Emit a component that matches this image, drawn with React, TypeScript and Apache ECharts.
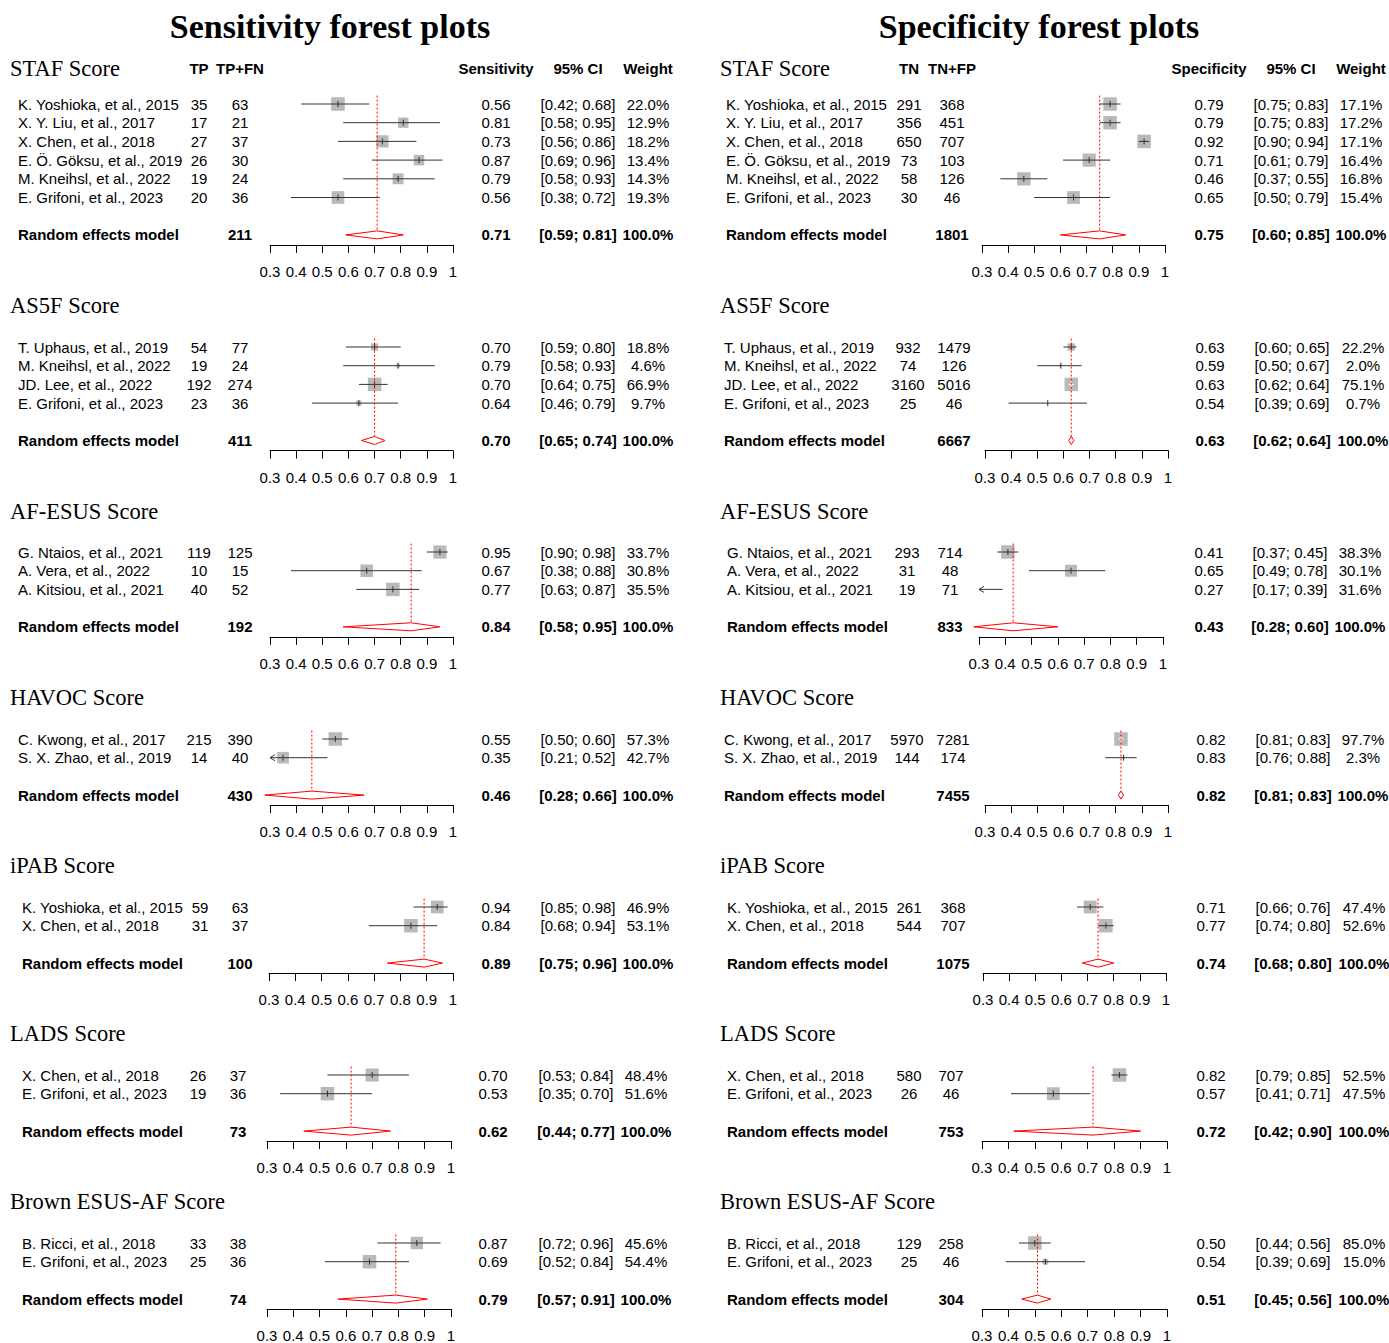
import React, { useEffect, useRef } from "react";
import * as echarts from "echarts";

type Row = [string, number, number, number, number, number, number]; // study, events, total, estimate, lower, upper, weight %
type Pooled = [number, number, number, number]; // total, estimate, lower, upper

// ---------------- Sensitivity data ----------------
const SENS_STAF: Row[] = [
  ["K. Yoshioka, et al., 2015", 35, 63, 0.56, 0.42, 0.68, 22.0],
  ["X. Y. Liu, et al., 2017", 17, 21, 0.81, 0.58, 0.95, 12.9],
  ["X. Chen, et al., 2018", 27, 37, 0.73, 0.56, 0.86, 18.2],
  ["E. Ö. Göksu, et al., 2019", 26, 30, 0.87, 0.69, 0.96, 13.4],
  ["M. Kneihsl, et al., 2022", 19, 24, 0.79, 0.58, 0.93, 14.3],
  ["E. Grifoni, et al., 2023", 20, 36, 0.56, 0.38, 0.72, 19.3],
];
const SENS_STAF_POOLED: Pooled = [211, 0.71, 0.59, 0.81];

const SENS_AS5F: Row[] = [
  ["T. Uphaus, et al., 2019", 54, 77, 0.70, 0.59, 0.80, 18.8],
  ["M. Kneihsl, et al., 2022", 19, 24, 0.79, 0.58, 0.93, 4.6],
  ["JD. Lee, et al., 2022", 192, 274, 0.70, 0.64, 0.75, 66.9],
  ["E. Grifoni, et al., 2023", 23, 36, 0.64, 0.46, 0.79, 9.7],
];
const SENS_AS5F_POOLED: Pooled = [411, 0.70, 0.65, 0.74];

const SENS_AFESUS: Row[] = [
  ["G. Ntaios, et al., 2021", 119, 125, 0.95, 0.90, 0.98, 33.7],
  ["A. Vera, et al., 2022", 10, 15, 0.67, 0.38, 0.88, 30.8],
  ["A. Kitsiou, et al., 2021", 40, 52, 0.77, 0.63, 0.87, 35.5],
];
const SENS_AFESUS_POOLED: Pooled = [192, 0.84, 0.58, 0.95];

const SENS_HAVOC: Row[] = [
  ["C. Kwong, et al., 2017", 215, 390, 0.55, 0.50, 0.60, 57.3],
  ["S. X. Zhao, et al., 2019", 14, 40, 0.35, 0.21, 0.52, 42.7],
];
const SENS_HAVOC_POOLED: Pooled = [430, 0.46, 0.28, 0.66];

const SENS_IPAB: Row[] = [
  ["K. Yoshioka, et al., 2015", 59, 63, 0.94, 0.85, 0.98, 46.9],
  ["X. Chen, et al., 2018", 31, 37, 0.84, 0.68, 0.94, 53.1],
];
const SENS_IPAB_POOLED: Pooled = [100, 0.89, 0.75, 0.96];

const SENS_LADS: Row[] = [
  ["X. Chen, et al., 2018", 26, 37, 0.70, 0.53, 0.84, 48.4],
  ["E. Grifoni, et al., 2023", 19, 36, 0.53, 0.35, 0.70, 51.6],
];
const SENS_LADS_POOLED: Pooled = [73, 0.62, 0.44, 0.77];

const SENS_BROWN: Row[] = [
  ["B. Ricci, et al., 2018", 33, 38, 0.87, 0.72, 0.96, 45.6],
  ["E. Grifoni, et al., 2023", 25, 36, 0.69, 0.52, 0.84, 54.4],
];
const SENS_BROWN_POOLED: Pooled = [74, 0.79, 0.57, 0.91];

// ---------------- Specificity data ----------------
const SPEC_STAF: Row[] = [
  ["K. Yoshioka, et al., 2015", 291, 368, 0.79, 0.75, 0.83, 17.1],
  ["X. Y. Liu, et al., 2017", 356, 451, 0.79, 0.75, 0.83, 17.2],
  ["X. Chen, et al., 2018", 650, 707, 0.92, 0.90, 0.94, 17.1],
  ["E. Ö. Göksu, et al., 2019", 73, 103, 0.71, 0.61, 0.79, 16.4],
  ["M. Kneihsl, et al., 2022", 58, 126, 0.46, 0.37, 0.55, 16.8],
  ["E. Grifoni, et al., 2023", 30, 46, 0.65, 0.50, 0.79, 15.4],
];
const SPEC_STAF_POOLED: Pooled = [1801, 0.75, 0.60, 0.85];

const SPEC_AS5F: Row[] = [
  ["T. Uphaus, et al., 2019", 932, 1479, 0.63, 0.60, 0.65, 22.2],
  ["M. Kneihsl, et al., 2022", 74, 126, 0.59, 0.50, 0.67, 2.0],
  ["JD. Lee, et al., 2022", 3160, 5016, 0.63, 0.62, 0.64, 75.1],
  ["E. Grifoni, et al., 2023", 25, 46, 0.54, 0.39, 0.69, 0.7],
];
const SPEC_AS5F_POOLED: Pooled = [6667, 0.63, 0.62, 0.64];

const SPEC_AFESUS: Row[] = [
  ["G. Ntaios, et al., 2021", 293, 714, 0.41, 0.37, 0.45, 38.3],
  ["A. Vera, et al., 2022", 31, 48, 0.65, 0.49, 0.78, 30.1],
  ["A. Kitsiou, et al., 2021", 19, 71, 0.27, 0.17, 0.39, 31.6],
];
const SPEC_AFESUS_POOLED: Pooled = [833, 0.43, 0.28, 0.60];

const SPEC_HAVOC: Row[] = [
  ["C. Kwong, et al., 2017", 5970, 7281, 0.82, 0.81, 0.83, 97.7],
  ["S. X. Zhao, et al., 2019", 144, 174, 0.83, 0.76, 0.88, 2.3],
];
const SPEC_HAVOC_POOLED: Pooled = [7455, 0.82, 0.81, 0.83];

const SPEC_IPAB: Row[] = [
  ["K. Yoshioka, et al., 2015", 261, 368, 0.71, 0.66, 0.76, 47.4],
  ["X. Chen, et al., 2018", 544, 707, 0.77, 0.74, 0.80, 52.6],
];
const SPEC_IPAB_POOLED: Pooled = [1075, 0.74, 0.68, 0.80];

const SPEC_LADS: Row[] = [
  ["X. Chen, et al., 2018", 580, 707, 0.82, 0.79, 0.85, 52.5],
  ["E. Grifoni, et al., 2023", 26, 46, 0.57, 0.41, 0.71, 47.5],
];
const SPEC_LADS_POOLED: Pooled = [753, 0.72, 0.42, 0.90];

const SPEC_BROWN: Row[] = [
  ["B. Ricci, et al., 2018", 129, 258, 0.50, 0.44, 0.56, 85.0],
  ["E. Grifoni, et al., 2023", 25, 46, 0.54, 0.39, 0.69, 15.0],
];
const SPEC_BROWN_POOLED: Pooled = [304, 0.51, 0.45, 0.56];

const SCORES = ["STAF Score", "AS5F Score", "AF-ESUS Score", "HAVOC Score", "iPAB Score", "LADS Score", "Brown ESUS-AF Score"];
const SENS_ROWS = [SENS_STAF, SENS_AS5F, SENS_AFESUS, SENS_HAVOC, SENS_IPAB, SENS_LADS, SENS_BROWN];
const SENS_POOLED = [SENS_STAF_POOLED, SENS_AS5F_POOLED, SENS_AFESUS_POOLED, SENS_HAVOC_POOLED, SENS_IPAB_POOLED, SENS_LADS_POOLED, SENS_BROWN_POOLED];
const SPEC_ROWS = [SPEC_STAF, SPEC_AS5F, SPEC_AFESUS, SPEC_HAVOC, SPEC_IPAB, SPEC_LADS, SPEC_BROWN];
const SPEC_POOLED = [SPEC_STAF_POOLED, SPEC_AS5F_POOLED, SPEC_AFESUS_POOLED, SPEC_HAVOC_POOLED, SPEC_IPAB_POOLED, SPEC_LADS_POOLED, SPEC_BROWN_POOLED];
const SENS_HEADERS = ["TP", "TP+FN", "Sensitivity", "95% CI", "Weight"];
const SPEC_HEADERS = ["TN", "TN+FP", "Specificity", "95% CI", "Weight"];
const TITLES = ["Sensitivity forest plots", "Specificity forest plots"];
const POOLED_LABEL = "Random effects model";
const AXIS_MIN = 0.3;
const AXIS_MAX = 1;
const AXIS_STEP = 0.1;

// ---------------- Layout (pixels) ----------------
const RS = 18.7; // row spacing
const AXIS_GAP = 10;
const SQ = 13.5;
const DH = 4;
const SANS = '"Liberation Sans", Arial, Helvetica, sans-serif';
const SERIF = '"Liberation Serif", "Times New Roman", Times, serif';
const ROW_Y: [number, number][] = [
  [68, 104], [305, 347], [511, 552], [697, 739], [865, 907], [1033, 1075], [1201, 1243],
];
type Cols = [number, number, number, number, number, number, number, number]; // x0, x1, nameX, c1, c2, s1, s2, s3
const LEFT_COLS: Cols[] = [
  [270, 453, 18, 199, 240, 496, 578, 648],
  [270, 453, 18, 199, 240, 496, 578, 648],
  [270, 453, 18, 199, 240, 496, 578, 648],
  [270, 453, 18, 199, 240, 496, 578, 648],
  [269, 453, 22, 200, 240, 496, 578, 648],
  [267, 451, 22, 198, 238, 493, 576, 646],
  [267, 451, 22, 198, 238, 493, 576, 646],
];
const RIGHT_COLS: Cols[] = [
  [982, 1165, 726, 909, 952, 1209, 1291, 1361],
  [985, 1168, 724, 908, 954, 1210, 1292, 1363],
  [979, 1163, 727, 907, 950, 1209, 1290, 1360],
  [985, 1168, 724, 907, 953, 1211, 1293, 1363],
  [983, 1166, 727, 909, 953, 1211, 1293, 1364],
  [982, 1167, 727, 909, 951, 1211, 1293, 1364],
  [982, 1167, 727, 909, 951, 1211, 1293, 1364],
];

function textEl(text: string, x: number, y: number, align: string, font: string) {
  return {
    type: "text",
    x,
    y,
    style: {
      text,
      fill: "#000",
      font,
      align,
      verticalAlign: "middle",
      textAlign: align,
      textVerticalAlign: "middle",
    },
  };
}

function buildOption() {
  const grids: any[] = [];
  const xAxes: any[] = [];
  const yAxes: any[] = [];
  const series: any[] = [];
  const graphics: any[] = [];
  const F = `15px ${SANS}`;
  const FB = `bold 15px ${SANS}`;

  const panels: any[] = [];
  for (let k = 0; k < 7; k++) {
    panels.push({ rows: SENS_ROWS[k], pooled: SENS_POOLED[k], cols: LEFT_COLS[k], title: SCORES[k], ty: ROW_Y[k][0], row0: ROW_Y[k][1], titleX: 10, headers: k === 0 ? SENS_HEADERS : null });
    panels.push({ rows: SPEC_ROWS[k], pooled: SPEC_POOLED[k], cols: RIGHT_COLS[k], title: SCORES[k], ty: ROW_Y[k][0], row0: ROW_Y[k][1], titleX: 720, headers: k === 0 ? SPEC_HEADERS : null });
  }

  graphics.push({ type: "text", x: 330, y: 26, style: { text: TITLES[0], fill: "#000", font: `bold 34px ${SERIF}`, align: "center", verticalAlign: "middle", textAlign: "center", textVerticalAlign: "middle" } });
  graphics.push({ type: "text", x: 1039, y: 26, style: { text: TITLES[1], fill: "#000", font: `bold 34px ${SERIF}`, align: "center", verticalAlign: "middle", textAlign: "center", textVerticalAlign: "middle" } });

  panels.forEach((p, k) => {
    const rows: Row[] = p.rows;
    const pooled: Pooled = p.pooled;
    const [x0, x1, nameX, c1, c2, s1, s2, s3] = p.cols as Cols;
    const n = rows.length;
    const wMax = Math.max(...rows.map((r) => r[6]));

    graphics.push(textEl(p.title, p.titleX, p.ty, "left", `22.5px ${SERIF}`));
    if (p.headers) {
      const hx = [c1, c2, s1, s2, s3];
      p.headers.forEach((h: string, j: number) => graphics.push(textEl(h, hx[j], p.ty, "center", FB)));
    }

    grids.push({ left: x0, top: p.row0 - 0.5 * RS, width: x1 - x0, height: (n + 1.5) * RS + AXIS_GAP, containLabel: false, outerBoundsMode: "none" });
    xAxes.push({
      type: "value",
      gridIndex: k,
      min: AXIS_MIN,
      max: AXIS_MAX,
      interval: AXIS_STEP,
      position: "bottom",
      axisLine: { show: true, onZero: false, lineStyle: { color: "#000", width: 1 } },
      axisTick: { show: true, length: 8, inside: false, lineStyle: { color: "#000", width: 1 } },
      axisLabel: {
        show: true,
        margin: 19,
        color: "#000",
        fontSize: 15,
        fontFamily: SANS,
        hideOverlap: false,
        formatter: (v: number) => (Math.abs(v - 1) < 1e-9 ? "1" : v.toFixed(1)),
      },
      splitLine: { show: false },
    });
    yAxes.push({ type: "value", gridIndex: k, min: -0.5, max: n + 1 + AXIS_GAP / RS, inverse: true, show: false });

    const data = rows.map((r, i) => [r[3], i]);
    data.push([pooled[1], n + 1]);

    series.push({
      type: "custom",
      coordinateSystem: "cartesian2d",
      xAxisIndex: k,
      yAxisIndex: k,
      clip: false,
      silent: true,
      animation: false,
      encode: { x: 0, y: 1 },
      data,
      renderItem: (params: any, api: any) => {
        const i = params.dataIndex;
        const isPooled = i === n;
        const r = isPooled ? n + 1 : i;
        const X = (v: number) => api.coord([v, r])[0];
        const y = api.coord([AXIS_MIN, r])[1];
        const children: any[] = [];
        if (!isPooled) {
          const [name, ev, tot, est, lo, hi, w] = rows[i];
          children.push(textEl(name, nameX, y, "left", F));
          children.push(textEl(String(ev), c1, y, "center", F));
          children.push(textEl(String(tot), c2, y, "center", F));
          children.push(textEl(est.toFixed(2), s1, y, "center", F));
          children.push(textEl(`[${lo.toFixed(2)}; ${hi.toFixed(2)}]`, s2, y, "center", F));
          children.push(textEl(`${w.toFixed(1)}%`, s3, y, "center", F));
          const xMin = X(AXIS_MIN);
          const side = SQ * Math.sqrt(w / wMax);
          const xe = X(est);
          const xl = X(lo);
          const xh = X(hi);
          const inside = xh - xl < 0.6 * side;
          const col = inside ? "#ffffff" : "#333333";
          if (est >= AXIS_MIN) {
            children.push({ type: "rect", shape: { x: xe - side / 2, y: y - side / 2, width: side, height: side }, style: { fill: "#b9b9b9" } });
          }
          children.push({ type: "line", shape: { x1: Math.max(xl, xMin), y1: y, x2: xh, y2: y }, style: { stroke: col, lineWidth: 1 } });
          if (lo < AXIS_MIN) {
            children.push({ type: "polyline", shape: { points: [[xMin + 5, y - 3], [xMin, y], [xMin + 5, y + 3]] }, style: { stroke: "#333333", fill: "none", lineWidth: 1 } });
          }
          if (est >= AXIS_MIN) {
            children.push({ type: "line", shape: { x1: xe, y1: y - 3, x2: xe, y2: y + 3 }, style: { stroke: col, lineWidth: 1 } });
          }
        } else {
          const [tot, est, lo, hi] = pooled;
          children.push(textEl(POOLED_LABEL, nameX, y, "left", FB));
          children.push(textEl(String(tot), c2, y, "center", FB));
          children.push(textEl(est.toFixed(2), s1, y, "center", FB));
          children.push(textEl(`[${lo.toFixed(2)}; ${hi.toFixed(2)}]`, s2, y, "center", FB));
          children.push(textEl("100.0%", s3, y, "center", FB));
          const xe = X(est);
          const yTop = api.coord([est, -0.45])[1];
          children.push({ type: "line", shape: { x1: xe, y1: yTop, x2: xe, y2: y - DH }, style: { stroke: "#ff0000", lineWidth: 1, lineDash: [2, 2] } });
          children.push({
            type: "polygon",
            shape: { points: [[X(lo), y], [xe, y - DH], [X(hi), y], [xe, y + DH]] },
            style: { stroke: "#ff0000", fill: "none", lineWidth: 1 },
          });
        }
        return { type: "group", children };
      },
    });
  });

  return {
    animation: false,
    backgroundColor: "#ffffff",
    grid: grids,
    xAxis: xAxes,
    yAxis: yAxes,
    series,
    graphic: graphics,
  };
}

export default function App() {
  const ref = useRef<HTMLDivElement>(null);
  useEffect(() => {
    if (!ref.current) return;
    const chart = echarts.init(ref.current, undefined, { renderer: "svg" });
    chart.setOption(buildOption() as any);
    return () => chart.dispose();
  }, []);
  return <div ref={ref} style={{ position: "absolute", left: 0, top: 0, width: 1389, height: 1343, background: "#fff" }} />;
}
